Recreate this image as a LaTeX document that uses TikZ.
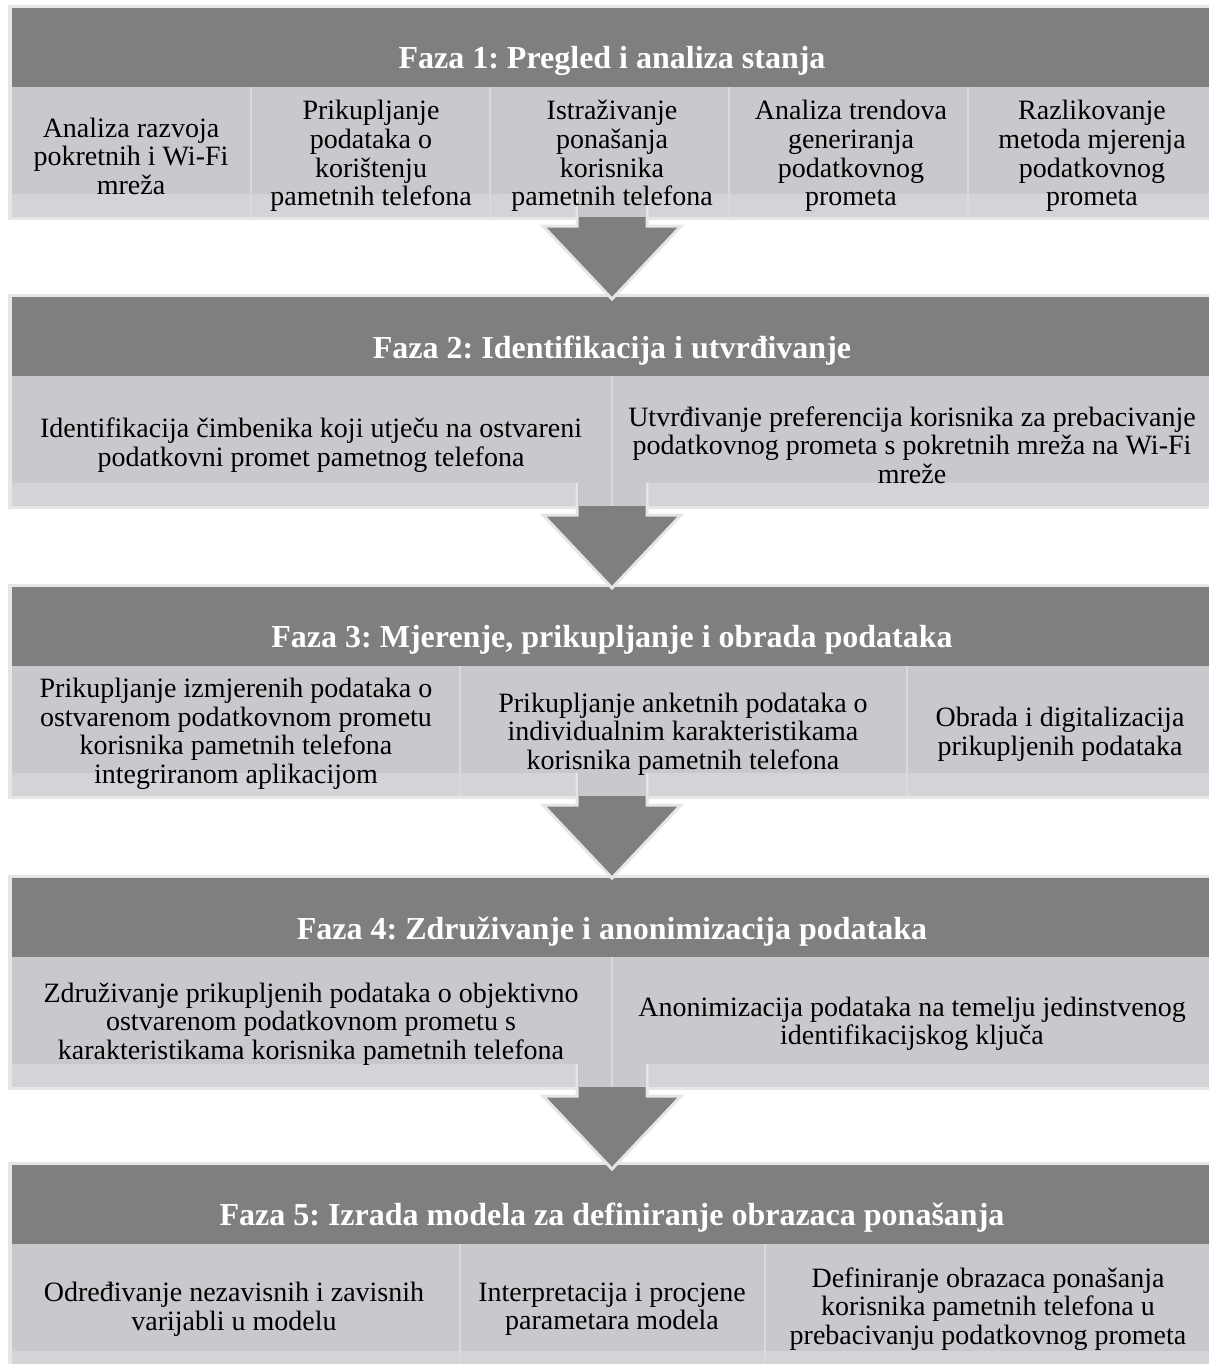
\documentclass[tikz,border=0pt]{standalone}
\usepackage{fontspec}
\setmainfont{Liberation Serif}
\frenchspacing
\definecolor{hdrC}{HTML}{7F7F7F}
\definecolor{subC}{HTML}{C8C9CC}
\definecolor{stripC}{HTML}{D3D4D7}
\definecolor{frameC}{HTML}{E6E6E6}
\definecolor{sepC}{HTML}{D9DADC}
\tikzset{
  framefill/.style={fill=frameC},
  hdrfill/.style={fill=hdrC},
  subfill/.style={fill=subC},
  stripfill/.style={fill=stripC},
  sepline/.style={draw=sepC, line width=1.5pt},
  title/.style={text=white, font=\fontsize{24}{28}\selectfont\bfseries, inner sep=0pt},
  body/.style={align=center, font=\fontsize{21}{21.4}\selectfont, inner sep=0pt, text=black},
  bigarrow/.style={fill=hdrC, draw=frameC, line width=2.25pt, line join=miter},
}
\newcommand\phaseBG[1]{%
  \path[framefill] (8,#1-3) rectangle (1209,#1+212);
  \path[hdrfill] (12,#1) rectangle (1209,#1+79);
  \path[stripfill] (12,#1+186) rectangle (1209,#1+209);
}
\newcommand\phaseSub[1]{%
  \path[subfill] (12,#1+79) rectangle (1209,#1+186);
}
\newcommand\bigArrow[1]{% #1 = phase top
  \draw[bigarrow] (577,#1+180) -- (577,#1+218) -- (543,#1+218) -- (612,#1+291)
     -- (681,#1+218) -- (647,#1+218) -- (647,#1+180) -- cycle;
}
\newcommand\shaftFill[1]{%
  \path[subfill] (578.5,#1+186) rectangle (645.5,#1+209);
}
\newcommand\sepAt[2]{%
  \draw[sepline] (#1,#2+79) -- (#1,#2+209);
}
\begin{document}
\begin{tikzpicture}[x=0.75pt,y=-0.75pt]
\useasboundingbox (0,0) rectangle (1209,1364);
\fill[white] (0,0) rectangle (1209,1364);
% backgrounds
\phaseBG{8}
\phaseBG{297}
\phaseBG{587}
\phaseBG{878}
\phaseBG{1165}
% arrows
\bigArrow{8}
\bigArrow{297}
\bigArrow{587}
\bigArrow{878}
% sub-box fills
\phaseSub{8}
\phaseSub{297}
\phaseSub{587}
\phaseSub{878}
\phaseSub{1165}
\shaftFill{8}
\shaftFill{297}
\shaftFill{587}
\shaftFill{878}
% separators
\sepAt{251}{8}\sepAt{490}{8}\sepAt{729}{8}\sepAt{968}{8}
\sepAt{612}{297}
\sepAt{460}{587}\sepAt{907}{587}
\sepAt{612}{878}
\sepAt{460}{1165}\sepAt{765}{1165}
% titles
\node[title] (t1) at (612,61) {Faza 1: Pregled i analiza stanja};
\node[title] (t2) at (612,351) {Faza 2: Identifikacija i utvrđivanje};
\node[title] (t3) at (612,640) {Faza 3: Mjerenje, prikupljanje i obrada podataka};
\node[title] (t4) at (612,932) {Faza 4: Združivanje i anonimizacija podataka};
\node[title] (t5) at (612,1218) {Faza 5: Izrada modela za definiranje obrazaca ponašanja};
% phase 1
\node[body] (p1a) at (131,156) {Analiza razvoja\\pokretnih i Wi-Fi\\mreža};
\node[body] (p1b) at (371,156) {Prikupljanje\\podataka o\\korištenju\\pametnih telefona};
\node[body] (p1c) at (612,156) {Istraživanje\\ponašanja\\korisnika\\pametnih telefona};
\node[body] (p1d) at (851,156) {Analiza trendova\\generiranja\\podatkovnog\\prometa};
\node[body] (p1e) at (1092,156) {Razlikovanje\\metoda mjerenja\\podatkovnog\\prometa};
% phase 2
\node[body] (p2a) at (311,445) {Identifikacija čimbenika koji utječu na ostvareni\\podatkovni promet pametnog telefona};
\node[body] (p2b) at (912,445) {Utvrđivanje preferencija korisnika za prebacivanje\\podatkovnog prometa s pokretnih mreža na Wi-Fi\\mreže};
% phase 3
\node[body] (p3a) at (236,734) {Prikupljanje izmjerenih podataka o\\ostvarenom podatkovnom prometu\\korisnika pametnih telefona\\integriranom aplikacijom};
\node[body] (p3b) at (683,734) {Prikupljanje anketnih podataka o\\individualnim karakteristikama\\korisnika pametnih telefona};
\node[body] (p3c) at (1060,734) {Obrada i digitalizacija\\prikupljenih podataka};
% phase 4
\node[body] (p4a) at (311,1024) {Združivanje prikupljenih podataka o objektivno\\ostvarenom podatkovnom prometu s\\karakteristikama korisnika pametnih telefona};
\node[body] (p4b) at (912,1024) {Anonimizacija podataka na temelju jedinstvenog\\identifikacijskog ključa};
% phase 5
\node[body] (p5a) at (234,1309) {Određivanje nezavisnih i zavisnih\\varijabli u modelu};
\node[body] (p5b) at (612,1309) {Interpretacija i procjene\\parametara modela};
\node[body] (p5c) at (988,1309) {Definiranje obrazaca ponašanja\\korisnika pametnih telefona u\\prebacivanju podatkovnog prometa};
\end{tikzpicture}
\end{document}
